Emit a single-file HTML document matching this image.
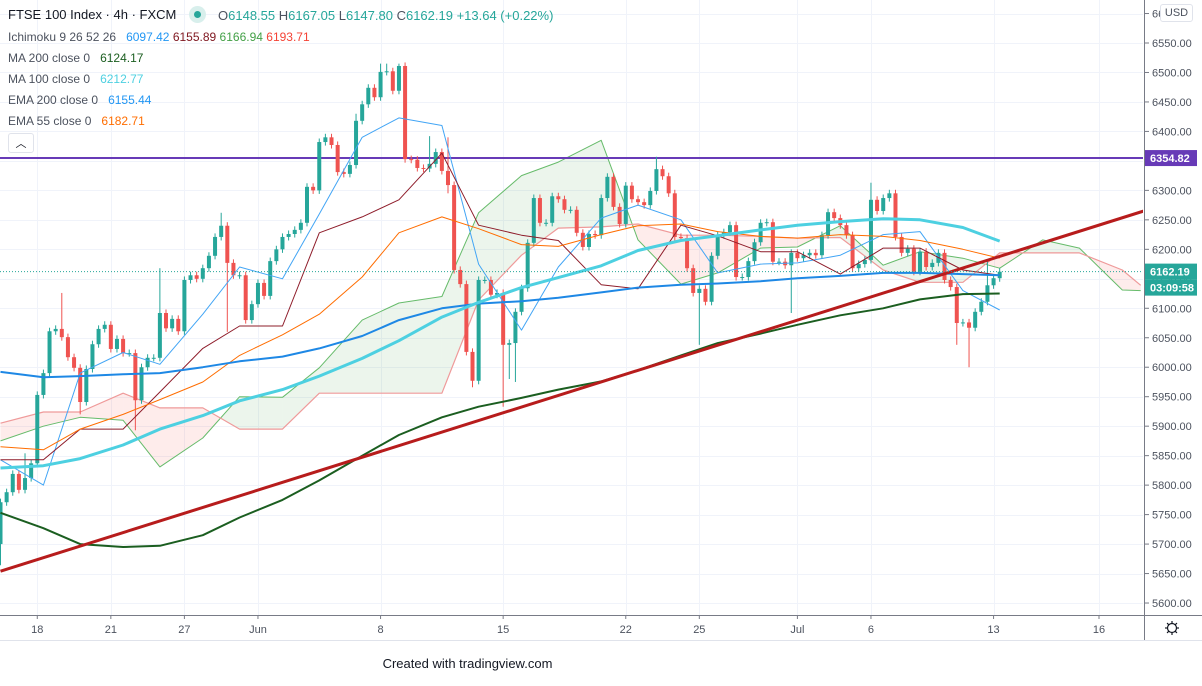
<!DOCTYPE html>
<html><head><meta charset="utf-8">
<style>
html,body{margin:0;padding:0;background:#fff;}
body{width:1202px;height:686px;overflow:hidden;position:relative;font-family:"Liberation Sans",sans-serif;}
svg{position:absolute;left:0;top:0;}
.lg{position:absolute;left:8px;font-size:12px;color:#4c525e;white-space:nowrap;}
</style></head>
<body>
<svg id="chart" width="1202" height="686" xmlns="http://www.w3.org/2000/svg"></svg>

<div class="lg" style="top:7px;font-size:13px;color:#131722;">FTSE 100 Index · 4h · FXCM</div>
<div style="position:absolute;left:189px;top:6px;width:17px;height:17px;border-radius:50%;background:#d8efec;"><div style="position:absolute;left:5px;top:5px;width:7px;height:7px;border-radius:50%;background:#26a69a;"></div></div>
<div class="lg" style="left:218px;top:8px;font-size:13px;color:#26a69a;"><span style="color:#4c525e">O</span>6148.55 <span style="color:#4c525e">H</span>6167.05 <span style="color:#4c525e">L</span>6147.80 <span style="color:#4c525e">C</span>6162.19 +13.64 (+0.22%)</div>
<div class="lg" style="top:30px;">Ichimoku 9 26 52 26 &nbsp;&nbsp;<span style="color:#2196f3">6097.42</span> <span style="color:#801922">6155.89</span> <span style="color:#43a047">6166.94</span> <span style="color:#f44336">6193.71</span></div>
<div class="lg" style="top:51px;">MA 200 close 0 &nbsp;&nbsp;<span style="color:#1b5e20">6124.17</span></div>
<div class="lg" style="top:72px;">MA 100 close 0 &nbsp;&nbsp;<span style="color:#4dd0e1">6212.77</span></div>
<div class="lg" style="top:93px;">EMA 200 close 0 &nbsp;&nbsp;<span style="color:#2196f3">6155.44</span></div>
<div class="lg" style="top:114px;">EMA 55 close 0 &nbsp;&nbsp;<span style="color:#ff6d00">6182.71</span></div>
<div style="position:absolute;left:8px;top:133px;width:24px;height:18px;border:1px solid #e0e3eb;border-radius:3px;background:#fff;font-size:11px;text-align:center;line-height:20px;color:#131722;">︿</div>
<div style="position:absolute;left:1160px;top:4px;width:31px;height:16px;border:1px solid #e0e3eb;border-radius:3px;background:#fff;font-size:11px;line-height:16px;text-align:center;color:#4c525e;">USD</div>
<div style="position:absolute;left:0;top:656px;width:935px;text-align:center;font-size:13px;color:#131722;">Created with tradingview.com</div>

<script>
// ---- data ----
const closes = [5771,5788,5819,5792,5812,5837,5953,5990,6061,6065,6051,6017,5999,5941,5997,6039,6065,6072,6031,6048,6024,6024,5944,6000,6016,6016,6092,6066,6082,6061,6148,6156,6150,6168,6189,6221,6240,6177,6156,6156,6080,6107,6143,
6121,6180,6200,6221,6226,6233,6245,6306,6300,6382,6390,6377,6331,6328,6343,6418,6446,6474,6458,6501,6502,6469,6511,6353,6352,6338,6337,6345,6365,6333,6309,6165,6141,6026,5977,6148,6148,6123,6126,
6038,6041,6094,6134,6211,6287,6245,6245,6290,6285,6267,6267,6228,6204,6226,6224,6287,6323,6272,6243,6308,6285,6280,6275,6299,6336,6324,6295,6221,6219,6168,6126,6133,6111,6189,6224,
6229,6241,6153,6153,6180,6212,6245,6246,6179,6179,6173,6194,6185,6190,6194,6190,6224,6263,6253,6241,6224,6168,6175,6182,6284,6265,6287,6295,6221,6194,6201,6162,6196,6170,6177,6194,6148,6136,6075,6076,6067,6094,6111,6139,6151,6162];
const firstOpen = 5700;
const wickHighs = [[4,5854],[10,6126],[26,6168],[36,6262],[58,6430],[62,6515],[63,6515],[65,6515],[70,6392],[73,6390],[107,6357],[142,6313],[161,6180]];
const wickLows = [[0,5664],[13,5920],[22,5893],[37,6060],[73,6295],[77,5966],[82,5933],[83,5980],[84,5975],[114,6038],[129,6092],[156,6038],[158,6000]];
const sampleBars = [0,7,13,20,26,33,39,46,52,59,65,72,78,85,91,98,104,111,117,124,130,137,144,150,157,163];
const ma100 = [5829,5833,5845,5868,5895,5918,5943,5962,5985,6015,6045,6085,6110,6135,6152,6172,6198,6215,6223,6233,6241,6247,6252,6250,6237,6214];
const ma200 = [5753,5727,5700,5695,5697,5715,5745,5775,5808,5850,5885,5915,5933,5948,5962,5976,5995,6020,6041,6057,6072,6088,6100,6115,6124,6125];
const ema200 = [5992,5983,5985,5988,5990,6000,6010,6018,6032,6053,6080,6100,6108,6112,6118,6127,6135,6140,6142,6146,6151,6155,6160,6160,6158,6156];
const ema55 = [5865,5860,5895,5920,5945,5975,6020,6055,6090,6153,6228,6255,6235,6208,6205,6225,6240,6243,6230,6222,6219,6225,6222,6215,6200,6185];
const conversion = [5843,5800,5990,6025,6005,6090,6170,6150,6260,6390,6423,6410,6175,6063,6170,6253,6275,6250,6160,6175,6177,6190,6225,6230,6130,6097];
const baseLine = [5843,5843,5895,5895,5958,6032,6070,6070,6228,6255,6284,6363,6241,6224,6215,6140,6133,6241,6223,6196,6196,6158,6202,6202,6165,6156];
const cloudBars = [0,7,13,20,26,33,39,46,52,59,65,72,78,85,91,98,104,111,117,124,130,137,144,150,157,163,170,176,183,186];
const spanA = [5875,5900,5915,5910,5831,5880,5950,5949,5999,6080,6109,6120,6262,6325,6348,6385,6216,6141,6160,6202,6204,6240,6173,6196,6185,6168,6216,6202,6131,6130];
const spanB = [5905,5924,5924,5956,5931,5931,5895,5895,5956,5956,5956,5956,6114,6190,6236,6238,6243,6224,6224,6222,6219,6220,6165,6144,6144,6194,6194,6194,6165,6139];
const trendPoints = [[0,5654],[186.5,6265]];
const resistance = 6354.82;
const lastPrice = 6162.19;
const priceTicks = [5600,5650,5700,5750,5800,5850,5900,5950,6000,6050,6100,6150,6200,6250,6300,6350,6400,6450,6500,6550,6600];
const dateLabels = ["18","21","27","Jun","8","15","22","25","Jul","6","13","16"];
const dateBars = [6,18,30,42,62,82,102,114,130,142,162,179.2];

// ---- axes ----
const PW = 1143, PH = 615;
const X = i => 0.5 + i * 6.13;
const Y = p => 43 + (6550 - p) * 0.5895;
const NS = "http://www.w3.org/2000/svg";
const svg = document.getElementById('chart');
function mk(tag, attrs, parent) {
  const e = document.createElementNS(NS, tag);
  for (const k in attrs) e.setAttribute(k, attrs[k]);
  (parent || svg).appendChild(e);
  return e;
}
const defs = mk('defs', {});
const cp = mk('clipPath', {id: 'plot'}, defs);
mk('rect', {x: 0, y: 0, width: PW, height: PH}, cp);

const grid = mk('g', {});


priceTicks.forEach(p => { const y = Math.round(Y(p)) + 0.5; mk('line', {x1: 0, x2: PW, y1: y, y2: y, stroke: '#f0f3fa'}, grid); });
dateBars.forEach(b => { const x = Math.round(X(b)) + 0.5; mk('line', {x1: x, x2: x, y1: 0, y2: PH, stroke: '#f0f3fa'}, grid); });

const plot = mk('g', {'clip-path': 'url(#plot)'});



const cloud = mk('g', {}, plot);


for (let k = 0; k < cloudBars.length - 1; k++) {
  const x0 = X(cloudBars[k]), x1 = X(cloudBars[k + 1]);
  const a0 = spanA[k], a1 = spanA[k + 1], b0 = spanB[k], b1 = spanB[k + 1];
  const d0 = a0 - b0, d1 = a1 - b1;
  const fillFor = d => d >= 0 ? 'rgba(67,160,71,0.10)' : 'rgba(244,67,54,0.10)';
  if (d0 * d1 < 0) {
    const t = d0 / (d0 - d1), xm = x0 + t * (x1 - x0), pm = a0 + t * (a1 - a0);
    mk('polygon', {points: `${x0},${Y(a0)} ${xm},${Y(pm)} ${x0},${Y(b0)}`, fill: fillFor(d0)}, cloud);
    mk('polygon', {points: `${xm},${Y(pm)} ${x1},${Y(a1)} ${x1},${Y(b1)}`, fill: fillFor(d1)}, cloud);
  } else {
    mk('polygon', {points: `${x0},${Y(a0)} ${x1},${Y(a1)} ${x1},${Y(b1)} ${x0},${Y(b0)}`, fill: fillFor(d0 + d1)}, cloud);
  }
}
function line(bars, vals, color, w, name, parent) {
  const pts = bars.map((b, i) => X(b).toFixed(1) + ',' + Y(vals[i]).toFixed(1)).join(' ');
  const e = mk('polyline', {points: pts, fill: 'none', stroke: color, 'stroke-width': w, 'stroke-linejoin': 'round'}, parent || plot);
  
  
  return e;
}
line(cloudBars, spanA, '#66bb6a', 1, 'ichimoku-span-a');
line(cloudBars, spanB, '#ef9a9a', 1.2, 'ichimoku-span-b');

const res = mk('line', {x1: 0, x2: PW, y1: Y(resistance), y2: Y(resistance), stroke: '#673ab7', 'stroke-width': 2}, plot);



const cg = mk('g', {}, plot);


const hiMap = {}, loMap = {};
wickHighs.forEach(([i, v]) => hiMap[i] = v);
wickLows.forEach(([i, v]) => loMap[i] = v);
closes.forEach((c, i) => {
  const o = i === 0 ? firstOpen : closes[i - 1];
  const up = c >= o;
  const col = up ? '#26a69a' : '#ef5350';
  const top = Math.max(o, c), bot = Math.min(o, c);
  const h = hiMap[i] !== undefined ? hiMap[i] : top + 6;
  const l = loMap[i] !== undefined ? loMap[i] : bot - 6;
  const x = X(i);
  const g = mk('g', {}, cg);
  
  
  mk('line', {x1: x, x2: x, y1: Y(h), y2: Y(l), stroke: col, 'stroke-width': 1}, g);
  mk('rect', {x: x - 2, y: Y(top), width: 4, height: Math.max(1, Y(bot) - Y(top)), fill: col}, g);
});

line(sampleBars, conversion, '#42a5f5', 1, 'ichimoku-conversion-line');
line(sampleBars, baseLine, '#8e1c2a', 1, 'ichimoku-base-line');
line(sampleBars, ema55, '#ff6d00', 1, 'ema55-line');
line(sampleBars, ema200, '#1e88e5', 2, 'ema200-line');
line(sampleBars, ma100, '#4dd0e1', 3, 'ma100-line');
line(sampleBars, ma200, '#1b5e20', 2, 'ma200-line');
const tl = mk('line', {x1: X(trendPoints[0][0]), y1: Y(trendPoints[0][1]), x2: X(trendPoints[1][0]), y2: Y(trendPoints[1][1]), stroke: '#b71c1c', 'stroke-width': 3}, plot);


const lp = mk('line', {x1: 0, x2: PW, y1: Y(lastPrice), y2: Y(lastPrice), stroke: '#26a69a', 'stroke-width': 1, 'stroke-dasharray': '1,2'}, plot);



const pa = mk('g', {});


mk('line', {x1: 1144.5, x2: 1144.5, y1: 0, y2: 640, stroke: '#787b86'}, pa);
priceTicks.forEach(p => {
  const y = Y(p);
  if (y < 5 || y > PH) return;
  mk('line', {x1: 1145, x2: 1149, y1: y, y2: y, stroke: '#787b86'}, pa);
  const t = mk('text', {x: 1152, y: y + 4, 'font-size': 11, fill: '#4c525e', 'font-family': 'Liberation Sans, sans-serif'}, pa);
  t.textContent = p.toFixed(2);
  
  
});
function tag(p, text, color, dy, name) {
  const y = Y(p) + dy;
  const g = mk('g', {}, pa);
  
  
  mk('rect', {x: 1145, y: y - 8, width: 52, height: 16, fill: color}, g);
  const t = mk('text', {x: 1150, y: y + 4, 'font-size': 11, 'font-weight': 'bold', fill: '#fff', 'font-family': 'Liberation Sans, sans-serif'}, g);
  t.textContent = text;
}
tag(resistance, resistance.toFixed(2), '#673ab7', 0, 'resistance-price-tag');
tag(lastPrice, lastPrice.toFixed(2), '#26a69a', 0, 'last-price-tag');
tag(lastPrice, '03:09:58', '#26a69a', 16, 'countdown-tag');

const ta = mk('g', {});


mk('line', {x1: 0, x2: 1202, y1: 615.5, y2: 615.5, stroke: '#787b86'}, ta);
mk('line', {x1: 0, x2: 1202, y1: 640.5, y2: 640.5, stroke: '#e0e3eb'}, ta);
dateLabels.forEach((d, k) => {
  const x = X(dateBars[k]);
  mk('line', {x1: x, x2: x, y1: 616, y2: 619, stroke: '#787b86'}, ta);
  const t = mk('text', {x: x, y: 633, 'font-size': 11, fill: '#4c525e', 'text-anchor': 'middle', 'font-family': 'Liberation Sans, sans-serif'}, ta);
  t.textContent = d;
  
  
});
const gear = mk('g', {transform: 'translate(1172,628)'});


mk('circle', {cx: 0, cy: 0, r: 4.5, fill: 'none', stroke: '#131722', 'stroke-width': 1.2}, gear);
for (let a = 0; a < 8; a++) {
  const r = a * Math.PI / 4;
  mk('line', {x1: 4.5 * Math.cos(r), y1: 4.5 * Math.sin(r), x2: 7 * Math.cos(r), y2: 7 * Math.sin(r), stroke: '#131722', 'stroke-width': 1.2}, gear);
}
</script>
</body></html>
